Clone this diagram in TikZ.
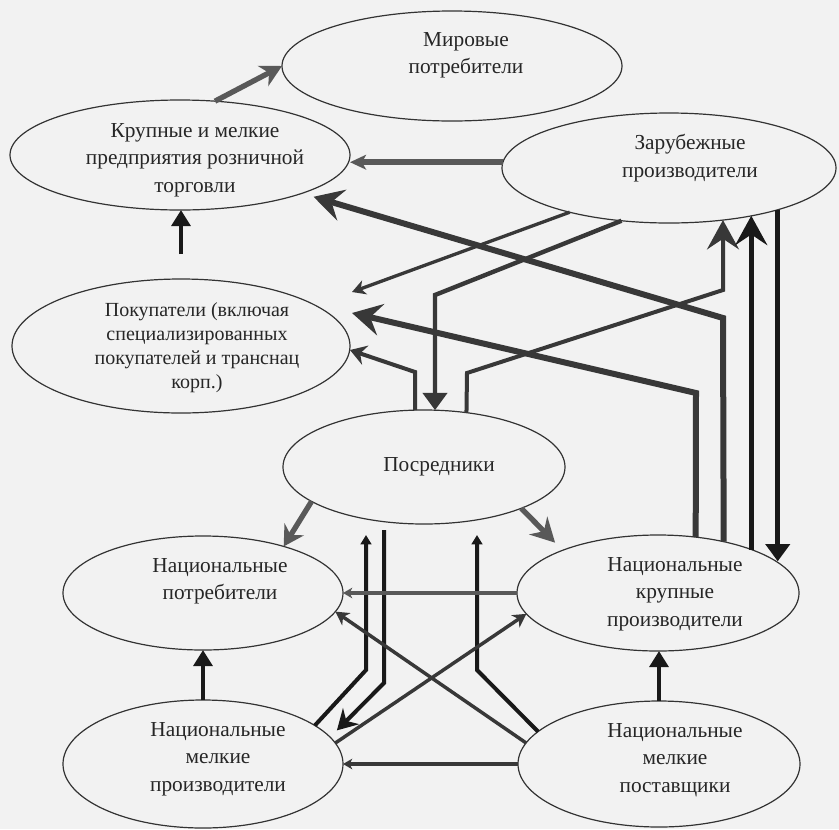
\documentclass[tikz,border=0pt]{standalone}
\usepackage{fontspec}
\setmainfont{Liberation Serif}
\usetikzlibrary{arrows.meta,calc,shapes.geometric}
\begin{document}
\begin{tikzpicture}[x=0.75pt,y=-0.75pt,
  ell/.style 2 args={ellipse,draw=black!80,line width=0.9pt,minimum width=#1,minimum height=#2,inner sep=0pt,outer sep=0pt},
  lbl/.style={align=center,font=\fontsize{16}{20.5}\selectfont,text=black!85,inner sep=0pt},
  lblsmall/.style={align=center,font=\fontsize{15}{18}\selectfont,text=black!85,inner sep=0pt},
  ln/.style={draw=black!78,line width=#1,line join=miter},
  dk/.style={draw=black!90,line width=#1,line join=miter},
  gr/.style={draw=black!65,line width=#1,line join=miter},
  hbig/.style={-{Stealth[length=22pt,width=24pt,inset=8pt]}},
  hmid/.style={-{Stealth[length=15pt,width=17pt,inset=5pt]}},
  hsmall/.style={-{Stealth[length=10pt,width=11pt,inset=3pt]}},
  htiny/.style={-{Stealth[length=7pt,width=8pt,inset=2pt]}},
  htri/.style={-{Triangle[length=13pt,width=18pt]}},
  htrismall/.style={-{Triangle[length=12pt,width=14pt]}},
  htritiny/.style={-{Triangle[length=7pt,width=8pt]}}
]
\useasboundingbox (0,0) rectangle (839,829);
\fill[black!5] (0,0) rectangle (839,829);

% ellipses
\node[ell={255pt}{82.5pt}] (mir) at (452,66) {};
\node[ell={255pt}{82.5pt}] (kr) at (180,155) {};
\node[ell={250.5pt}{82.5pt}] (zar) at (669,168) {};
\node[ell={253.5pt}{100.5pt}] (pok) at (181,346) {};
\node[ell={211.5pt}{85.5pt}] (pos) at (424,467) {};
\node[ell={210pt}{85.5pt}] (npot) at (203,593) {};
\node[ell={211.5pt}{87pt}] (nkr) at (658,593) {};
\node[ell={210pt}{96pt}] (nmp) at (203,764) {};
\node[ell={211.5pt}{94.5pt}] (nms) at (659,764) {};

% bend points
\coordinate (d1) at (723,318);
\coordinate (e1) at (696,393);
\coordinate (f1) at (435,295);
\coordinate (h1) at (415,372);
\coordinate (t1) at (467,373);
\coordinate (t2) at (723,290);
\coordinate (k1) at (366,670);
\coordinate (l1) at (384,683);
\coordinate (m1) at (477,670);

% upper connectors
\draw[gr=4pt,-{Stealth[length=16pt,width=17pt,inset=5pt]}] (kr.57) -- (mir.west);
\draw[gr=4.5pt,-{Stealth[length=12pt,width=11pt,inset=3pt]}] (zar.178) -- (zar.178 -| kr.east);
\draw[dk=3.5pt,htrismall] ($(pok.north)+(0,-25)$) -- (pok.north |- kr.south);
\draw[ln=4.5pt,hbig] (nkr.38) -- (d1) -- ($(kr.-17)+(10,4)$);
\draw[ln=4.5pt,hbig] (nkr.56) -- (e1) -- ($(pok.east)+(2,-33)$);
\draw[ln=3.3pt,htri] (zar.228) -- (f1) -- (f1 |- pos.79);
\draw[ln=2.5pt,hsmall] (zar.204) -- ($(pok.east)+(2,-54)$);
\draw[ln=3pt,-{Stealth[length=12pt,width=15pt,inset=4pt]}] (pos.99) -- (h1) -- ($(pok.east)+(0,4)$);
\draw[ln=3pt,hbig] (pos.52) -- (t1) -- (t2) -- (t2 |- zar.-44);
\draw[dk=3.8pt,hbig] (nkr.25) -- (nkr.25 |- zar.-30);
\draw[dk=3.8pt,htri] (zar.-21) -- (zar.-21 |- nkr.15);

% lower connectors
\draw[gr=4pt,hmid] (pos.197) -- (npot.30);
\draw[gr=4pt,-{Stealth[length=18pt,width=19pt,inset=6pt]}] (pos.-23) -- ($(nkr.154)+(-12,-6)$);
\draw[dk=3pt,htritiny] (nmp.19) -- (k1) -- ($(k1 |- pos.south)+(0,11)$);
\draw[dk=3pt,hmid] ($(l1 |- pos.south)+(0,6)$) -- (l1) -- ($(nmp.14)+(11,-3)$);
\draw[dk=3pt,htritiny] (nms.165) -- (m1) -- ($(m1 |- pos.south)+(0,11)$);
\draw[gr=2.5pt,htiny] (nkr.west) -- (nkr.west -| npot.east);
\draw[ln=2.6pt,hsmall] (nms.171) -- (npot.-8);
\draw[ln=2.6pt,hsmall] (nmp.9) -- (nkr.189);
\draw[ln=3pt,htiny] (nms.west) -- (nms.west -| nmp.east);
\draw[dk=3.5pt,htrismall] (nmp.north) -- (npot.south);
\draw[dk=3.5pt,htrismall] (nms.north) -- (nms.north |- nkr.south);

% labels
\node[lbl] (tmir) at (466,55) {Мировые\\потребители};
\node[lbl] (tkr) at (195,160) {Крупные и мелкие\\предприятия розничной\\торговли};
\node[lbl] (tzar) at (690,158) {Зарубежные\\производители};
\node[lblsmall] (tpok) at (197,348) {Покупатели (включая\\специализированных\\покупателей и транснац\\корп.)};
\node[lbl] (tpos) at (439,467) {Посредники};
\node[lbl] (tnpot) at (220,581) {Национальные\\потребители};
\node[lbl] (tnkr) at (675,594) {Национальные\\крупные\\производители};
\node[lbl] (tnmp) at (218,759) {Национальные\\мелкие\\производители};
\node[lbl] (tnms) at (675,760) {Национальные\\мелкие\\поставщики};
\end{tikzpicture}
\end{document}
